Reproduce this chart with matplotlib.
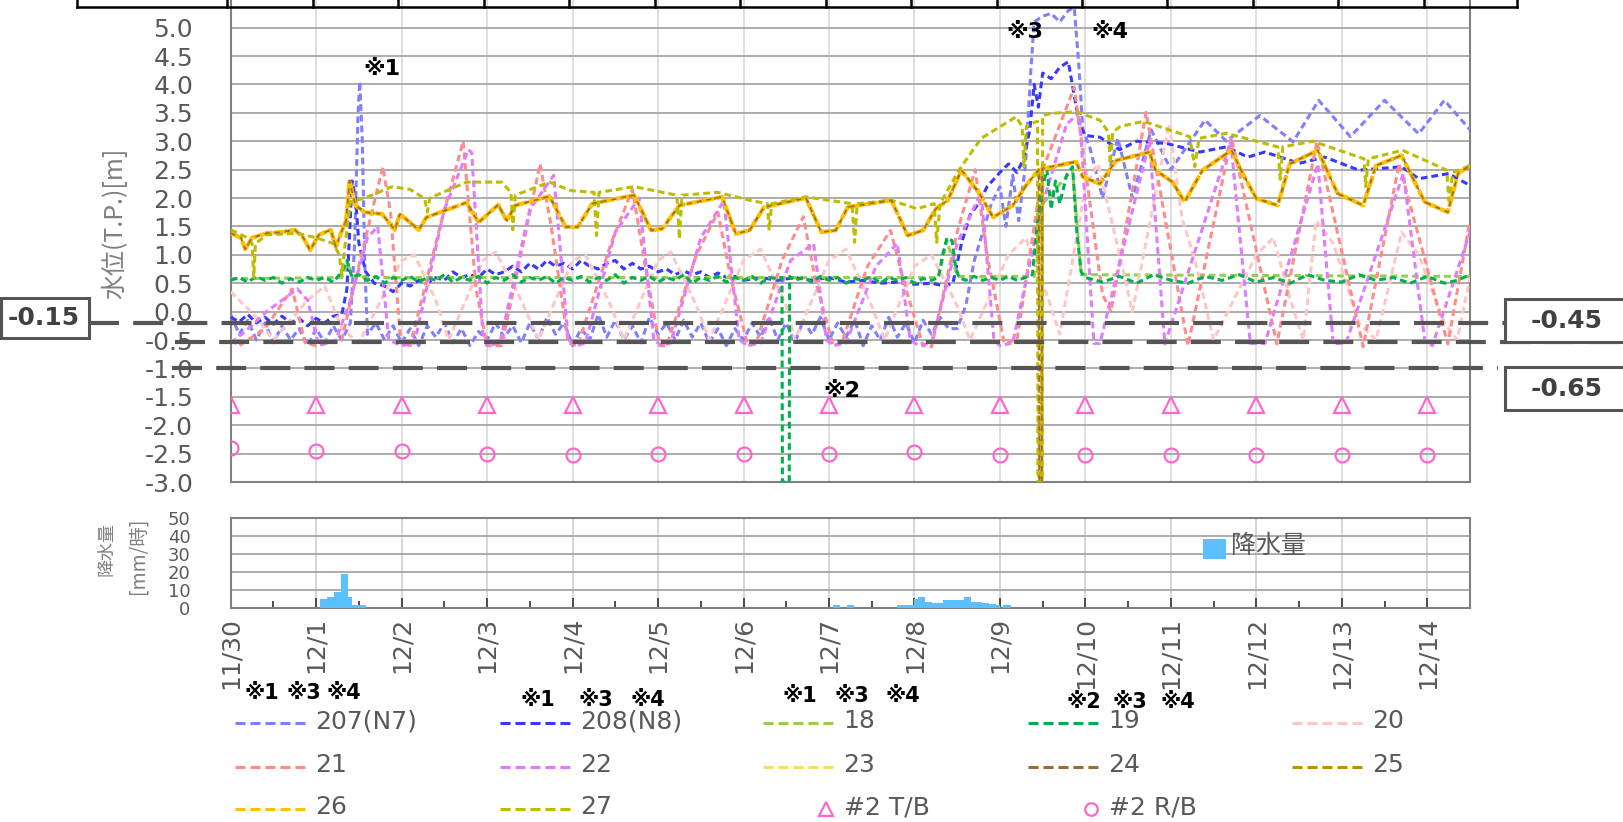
import numpy as np
import matplotlib
matplotlib.use("Agg")
import matplotlib.pyplot as plt
import matplotlib.transforms as mtransforms
from matplotlib.lines import Line2D
from matplotlib.patches import Rectangle

W, H = 1623, 822
plt.rcParams["font.family"] = ["DejaVu Sans", "Noto Sans CJK JP"]

# ---- data (x = days since 11/30 00:00) ----
DAY_LABELS = ["11/30", "12/1", "12/2", "12/3", "12/4", "12/5", "12/6", "12/7",
              "12/8", "12/9", "12/10", "12/11", "12/12", "12/13", "12/14"]

s207 = [(0.0, -0.05), (0.1, -0.4), (0.2, -0.15), (0.3, -0.5), (0.4, -0.2), (0.5, -0.55),
        (0.6, -0.25), (0.7, -0.5), (0.8, -0.3), (0.9, -0.6), (1.0, -0.3), (1.1, -0.55),
        (1.2, -0.25), (1.3, -0.5), (1.4, -0.2), (1.45, 1.2), (1.49, 3.5), (1.51, 4.05),
        (1.54, 3.0), (1.57, 0.8), (1.6, -0.4), (1.7, -0.2), (1.8, -0.5), (1.9, -0.25),
        (2.0, -0.55), (2.1, -0.3), (2.2, -0.6), (2.3, -0.25), (2.4, -0.45), (2.5, -0.2),
        (2.6, -0.55), (2.7, -0.3), (2.8, -0.6), (2.9, -0.35), (3.0, -0.5), (3.1, -0.2),
        (3.2, -0.45), (3.3, -0.25), (3.4, -0.55), (3.5, -0.2), (3.6, -0.5), (3.7, -0.1),
        (3.8, -0.4), (3.9, -0.2), (4.0, -0.6), (4.1, -0.3), (4.2, -0.5), (4.3, -0.05),
        (4.4, -0.45), (4.5, -0.15), (4.6, -0.5), (4.7, -0.25), (4.8, -0.55), (4.9, -0.1),
        (5.0, -0.4), (5.1, -0.2), (5.2, -0.5), (5.3, -0.15), (5.4, -0.45), (5.5, -0.2),
        (5.6, -0.55), (5.7, -0.3), (5.8, -0.6), (5.9, -0.3), (6.0, -0.5), (6.1, -0.2),
        (6.2, -0.45), (6.3, -0.1), (6.4, -0.5), (6.5, -0.2), (6.6, -0.55), (6.7, -0.15),
        (6.8, -0.4), (6.9, -0.1), (7.0, -0.5), (7.1, -0.2), (7.2, -0.45), (7.3, -0.15),
        (7.4, -0.6), (7.5, -0.25), (7.6, -0.5), (7.7, -0.1), (7.8, -0.45), (7.9, -0.2),
        (8.0, -0.55), (8.1, -0.15), (8.2, -0.4), (8.3, -0.1), (8.4, -0.3), (8.5, -0.3),
        (8.6, 0.1), (8.7, 0.9), (8.8, 1.4), (8.9, 1.9), (9.0, 2.2), (9.07, 1.5),
        (9.15, 2.4), (9.22, 1.6), (9.3, 2.6), (9.36, 4.2), (9.4, 5.1), (9.5, 5.2),
        (9.6, 5.25), (9.7, 5.1), (9.8, 5.3), (9.87, 5.35), (9.92, 4.4), (9.97, 3.2),
        (10.05, 2.9), (10.2, 2.0), (10.38, 3.05), (10.55, 2.0), (10.77, 3.2), (11.0, 2.5),
        (11.4, 3.37), (11.65, 3.0), (12.04, 3.45), (12.43, 2.99), (12.73, 3.72),
        (13.1, 3.08), (13.5, 3.72), (13.9, 3.13), (14.2, 3.72), (14.5, 3.2)]

s208 = [(0.0, -0.1), (0.1, -0.18), (0.2, -0.05), (0.3, -0.2), (0.4, -0.1), (0.5, -0.22),
        (0.6, -0.08), (0.7, -0.2), (0.8, -0.12), (0.9, -0.25), (1.0, -0.12), (1.1, -0.2),
        (1.2, -0.08), (1.3, -0.05), (1.36, 0.4), (1.42, 2.3), (1.46, 2.0), (1.5, 1.2),
        (1.58, 0.7), (1.68, 0.5), (1.8, 0.45), (1.9, 0.35), (2.0, 0.5), (2.1, 0.45),
        (2.2, 0.55), (2.3, 0.5), (2.4, 0.6), (2.5, 0.55), (2.6, 0.7), (2.7, 0.6),
        (2.8, 0.65), (2.9, 0.6), (3.0, 0.75), (3.1, 0.65), (3.2, 0.7), (3.3, 0.8),
        (3.4, 0.7), (3.5, 0.85), (3.6, 0.75), (3.7, 0.9), (3.8, 0.8), (3.9, 0.85),
        (4.0, 0.75), (4.1, 0.9), (4.2, 0.8), (4.3, 0.75), (4.4, 0.85), (4.5, 0.9),
        (4.6, 0.75), (4.7, 0.85), (4.8, 0.75), (4.9, 0.8), (5.0, 0.7), (5.1, 0.75),
        (5.2, 0.65), (5.3, 0.72), (5.4, 0.65), (5.5, 0.7), (5.6, 0.6), (5.7, 0.68),
        (5.8, 0.6), (5.9, 0.62), (6.0, 0.55), (6.2, 0.6), (6.4, 0.55), (6.6, 0.6),
        (6.8, 0.55), (7.0, 0.6), (7.2, 0.52), (7.4, 0.55), (7.6, 0.5), (7.8, 0.52),
        (8.0, 0.48), (8.2, 0.5), (8.35, 0.45), (8.45, 0.5), (8.55, 1.2), (8.65, 1.7),
        (8.75, 1.9), (8.85, 2.2), (9.0, 2.45), (9.1, 2.6), (9.2, 2.45), (9.28, 2.7),
        (9.35, 3.2), (9.4, 4.0), (9.45, 3.6), (9.5, 4.2), (9.6, 4.1), (9.7, 4.3),
        (9.8, 4.4), (9.87, 3.8), (9.93, 3.3), (10.0, 3.1), (10.17, 3.07), (10.4, 2.85),
        (10.6, 3.0), (10.95, 2.96), (11.34, 2.81), (11.65, 2.9), (11.9, 2.72),
        (12.1, 2.81), (12.5, 2.61), (12.8, 2.72), (13.2, 2.49), (13.7, 2.55),
        (13.9, 2.34), (14.25, 2.43), (14.5, 2.22)]

s18 = [(0.0, 0.58), (1.3, 0.6), (1.36, 0.85), (1.45, 0.6), (8.28, 0.6), (8.38, 1.25),
       (8.5, 0.62), (9.4, 0.62), (9.5, 1.9), (9.85, 2.5), (9.95, 0.65), (14.5, 0.62)]

s19 = [(0.0, 0.55), (0.1, 0.6), (0.2, 0.52), (0.3, 0.62), (0.4, 0.55), (0.5, 0.6),
       (0.6, 0.5), (0.7, 0.58), (0.8, 0.52), (0.9, 0.6), (1.0, 0.55), (1.1, 0.6),
       (1.2, 0.52), (1.3, 0.7), (1.36, 0.9), (1.42, 0.6), (1.5, 0.65), (1.6, 0.55),
       (1.7, 0.62), (1.8, 0.5), (1.9, 0.6), (2.0, 0.55), (2.1, 0.62), (2.2, 0.52),
       (2.3, 0.6), (2.4, 0.55), (2.5, 0.65), (2.6, 0.52), (2.7, 0.6), (2.8, 0.55),
       (2.9, 0.62), (3.0, 0.5), (3.1, 0.6), (3.2, 0.55), (3.3, 0.65), (3.4, 0.52),
       (3.5, 0.6), (3.6, 0.55), (3.7, 0.62), (3.8, 0.5), (3.9, 0.6), (4.0, 0.55),
       (4.1, 0.62), (4.2, 0.52), (4.3, 0.6), (4.4, 0.55), (4.5, 0.65), (4.6, 0.5),
       (4.7, 0.6), (4.8, 0.55), (4.9, 0.62), (5.0, 0.52), (5.1, 0.6), (5.2, 0.55),
       (5.3, 0.65), (5.4, 0.5), (5.5, 0.6), (5.6, 0.55), (5.7, 0.62), (5.8, 0.52),
       (5.9, 0.6), (6.0, 0.55), (6.1, 0.62), (6.2, 0.5), (6.3, 0.6), (6.4, 0.58),
       (6.45, 0.6), (6.455, -3.0), (6.535, -3.0), (6.54, 0.62), (6.6, 0.55), (6.7, 0.6),
       (6.8, 0.52), (6.9, 0.62), (7.0, 0.55), (7.1, 0.6), (7.2, 0.5), (7.3, 0.58),
       (7.4, 0.55), (7.5, 0.62), (7.6, 0.5), (7.7, 0.6), (7.8, 0.55), (7.9, 0.6),
       (8.0, 0.5), (8.1, 0.58), (8.2, 0.55), (8.28, 0.6), (8.33, 1.0), (8.38, 1.3),
       (8.44, 1.25), (8.48, 0.8), (8.52, 0.6), (8.6, 0.55), (8.7, 0.62), (8.8, 0.55),
       (8.9, 0.6), (9.0, 0.55), (9.1, 0.62), (9.2, 0.55), (9.3, 0.6), (9.38, 0.65),
       (9.44, 1.6), (9.5, 2.2), (9.55, 2.5), (9.6, 1.8), (9.65, 2.3), (9.7, 1.9),
       (9.78, 2.4), (9.85, 2.55), (9.9, 1.4), (9.95, 0.7), (10.0, 0.6), (10.2, 0.52),
       (10.4, 0.62), (10.6, 0.5), (10.8, 0.65), (11.0, 0.55), (11.2, 0.5), (11.4, 0.62),
       (11.6, 0.55), (11.8, 0.65), (12.0, 0.52), (12.2, 0.6), (12.4, 0.5), (12.6, 0.65),
       (12.8, 0.55), (13.0, 0.52), (13.2, 0.65), (13.4, 0.55), (13.6, 0.6), (13.8, 0.5),
       (14.0, 0.62), (14.2, 0.5), (14.35, 0.55), (14.5, 0.65)]

s20 = [(0.0, 0.35), (0.3, -0.1), (0.5, -0.5), (0.9, 0.2), (1.1, 0.45), (1.3, -0.3),
       (1.5, -0.55), (2.0, 0.9), (2.15, 1.0), (2.4, 0.2), (2.55, -0.5), (2.95, 0.9),
       (3.1, 1.05), (3.4, 0.2), (3.6, -0.5), (4.0, 0.9), (4.15, 1.0), (4.45, 0.1),
       (4.6, -0.5), (5.0, 0.9), (5.15, 1.05), (5.45, 0.1), (5.6, -0.5), (6.0, 0.9),
       (6.2, 1.1), (6.5, 0.1), (6.6, -0.5), (7.0, 0.9), (7.2, 1.1), (7.5, 0.1),
       (7.65, -0.5), (8.0, 0.8), (8.2, 1.0), (8.5, 0.1), (8.65, -0.5), (9.1, 1.0),
       (9.3, 1.3), (9.55, 0.3), (9.7, -0.4), (10.0, 2.2), (10.15, 2.6), (10.4, 1.0),
       (10.55, 0.0), (10.98, 3.3), (11.13, 1.65), (11.3, 0.8), (11.5, -0.5), (12.0, 1.0),
       (12.2, 1.3), (12.4, 0.2), (12.55, -0.5), (12.7, 1.6), (12.9, 1.2), (13.2, -0.2),
       (13.4, -0.5), (13.7, 1.4), (13.9, 1.0), (14.2, -0.2), (14.35, -0.5), (14.5, 0.6)]

s21 = [(0.0, -0.5), (0.1, -0.6), (0.4, -0.3), (0.72, 0.4), (0.87, -0.55), (1.0, -0.6),
       (1.3, -0.5), (1.45, 0.5), (1.78, 2.55), (1.87, 1.75), (1.99, -0.55), (2.1, -0.6),
       (2.45, 1.5), (2.72, 3.0), (2.87, 0.4), (3.0, -0.6), (3.17, -0.6), (3.62, 2.6),
       (3.75, 1.5), (3.95, -0.55), (4.06, -0.6), (4.45, 1.2), (4.7, 2.15), (4.85, 0.8),
       (5.02, -0.6), (5.1, -0.6), (5.45, 1.0), (5.7, 1.75), (5.85, 0.6), (6.05, -0.6),
       (6.15, -0.55), (6.45, 0.9), (6.7, 1.67), (6.85, 0.5), (7.05, -0.6), (7.15, -0.55),
       (7.45, 0.8), (7.72, 1.43), (7.9, 0.4), (8.1, -0.6), (8.2, -0.62), (8.5, 1.4),
       (8.71, 2.5), (8.85, 1.0), (9.05, -0.55), (9.2, -0.5), (9.5, 2.5), (9.87, 3.95),
       (10.0, 2.5), (10.2, 0.3), (10.3, 0.0), (10.71, 3.51), (11.2, -0.6), (11.71, 3.07),
       (12.24, -0.57), (12.71, 3.0), (13.25, -0.62), (13.67, 2.6), (14.24, -0.57),
       (14.5, 1.6)]

s22 = [(0.0, -0.55), (0.17, -0.35), (0.42, 0.0), (0.78, 0.4), (0.9, 0.2), (1.03, -0.6),
       (1.23, -0.5), (1.4, 0.2), (1.6, 1.3), (1.72, 1.5), (1.85, -0.5), (2.0, -0.6),
       (2.15, -0.55), (2.5, 1.8), (2.78, 2.85), (2.82, 2.8), (2.95, -0.4), (3.0, -0.6),
       (3.15, -0.55), (3.5, 1.8), (3.78, 2.4), (3.95, -0.5), (4.05, -0.6), (4.15, -0.55),
       (4.5, 1.4), (4.78, 2.0), (4.95, -0.5), (5.05, -0.6), (5.15, -0.55), (5.5, 1.3),
       (5.77, 1.95), (5.95, -0.5), (6.05, -0.6), (6.2, -0.55), (6.55, 0.9), (6.82, 1.2),
       (6.97, -0.5), (7.05, -0.6), (7.2, -0.55), (7.55, 0.8), (7.8, 1.2), (7.95, -0.5),
       (8.05, -0.6), (8.2, -0.55), (8.5, 1.2), (8.78, 2.1), (8.93, -0.5), (9.0, -0.6),
       (9.15, -0.55), (9.5, 1.9), (9.78, 3.3), (9.93, 3.5), (10.1, -0.56), (10.17, -0.56),
       (10.75, 3.0), (10.93, -0.57), (11.7, 3.0), (11.93, -0.56), (12.1, -0.56),
       (12.72, 2.6), (12.9, -0.57), (13.05, -0.55), (13.72, 2.43), (13.97, -0.5),
       (14.06, -0.6), (14.5, 1.4)]

# 23 / 24 / 25 / 26 lie on the same trace
s26 = [(0.0, 1.38), (0.12, 1.3), (0.17, 1.1), (0.25, 1.3), (0.42, 1.38), (0.6, 1.4),
       (0.75, 1.44), (0.85, 1.3), (0.93, 1.08), (1.03, 1.35), (1.17, 1.44), (1.23, 1.14),
       (1.29, 1.38), (1.35, 1.6), (1.39, 2.3), (1.46, 1.87), (1.57, 1.75), (1.77, 1.72),
       (1.92, 1.44), (1.98, 1.72), (2.2, 1.44), (2.29, 1.66), (2.76, 1.92), (2.9, 1.57),
       (3.13, 1.88), (3.23, 1.6), (3.33, 1.87), (3.73, 2.03), (3.92, 1.49), (4.06, 1.49),
       (4.23, 1.9), (4.72, 2.05), (4.92, 1.43), (5.05, 1.46), (5.25, 1.87), (5.75, 2.02),
       (5.91, 1.37), (6.07, 1.43), (6.24, 1.84), (6.73, 2.0), (6.91, 1.40), (7.08, 1.43),
       (7.22, 1.84), (7.73, 1.96), (7.92, 1.34), (8.1, 1.43), (8.25, 1.81), (8.39, 1.96),
       (8.55, 2.49), (8.76, 2.08), (8.92, 1.66), (9.15, 1.87), (9.31, 2.23), (9.45, 2.49),
       (9.89, 2.64), (9.97, 2.37), (10.17, 2.25), (10.36, 2.66), (10.75, 2.81),
       (10.82, 2.49), (11.02, 2.28), (11.16, 1.93), (11.37, 2.49), (11.71, 2.84),
       (11.84, 2.43), (12.0, 1.99), (12.25, 1.87), (12.39, 2.6), (12.72, 2.84),
       (12.95, 2.08), (13.25, 1.87), (13.4, 2.57), (13.7, 2.75), (13.97, 1.93),
       (14.24, 1.75), (14.36, 2.43), (14.5, 2.57)]
gap_2425 = [(9.455, 2.5), (9.46, -3.0), (9.49, -3.0), (9.495, 2.52)]

s27 = [(0.0, 1.44), (0.17, 1.32), (0.25, 1.2), (0.27, 0.6), (0.29, 1.2), (0.42, 1.35),
       (0.78, 1.38), (1.0, 1.3), (1.2, 1.2), (1.27, 1.0), (1.3, 0.65), (1.34, 1.2),
       (1.4, 1.93), (1.57, 2.0), (1.89, 2.2), (2.1, 2.15), (2.27, 1.99), (2.3, 1.75),
       (2.33, 2.0), (2.76, 2.28), (3.17, 2.28), (3.28, 2.1), (3.3, 1.44), (3.33, 2.05),
       (3.73, 2.28), (3.98, 2.13), (4.25, 2.1), (4.28, 1.34), (4.31, 2.1), (4.72, 2.2),
       (5.22, 2.05), (5.25, 1.28), (5.28, 2.05), (5.7, 2.1), (6.07, 1.96), (6.28, 1.9),
       (6.3, 1.43), (6.33, 1.9), (6.73, 2.02), (7.0, 1.96), (7.27, 1.9), (7.3, 1.22),
       (7.33, 1.9), (7.73, 1.96), (8.03, 1.81), (8.23, 1.9), (8.26, 1.22), (8.3, 1.9),
       (8.52, 2.49), (8.78, 3.05), (9.19, 3.43), (9.26, 3.26), (9.28, 2.55), (9.31, 3.26),
       (9.38, 3.32), (9.44, 3.35), (9.445, -3.0), (9.495, -3.0), (9.5, 3.45), (9.6, 3.49),
       (9.89, 3.52), (10.17, 3.37), (10.27, 3.16), (10.29, 2.6), (10.32, 3.16),
       (10.41, 3.26), (10.68, 3.35), (11.22, 3.08), (11.28, 2.55), (11.33, 3.05),
       (11.65, 3.14), (12.25, 2.9), (12.28, 2.33), (12.31, 2.9), (12.66, 3.0),
       (13.26, 2.69), (13.28, 2.2), (13.31, 2.69), (13.71, 2.84), (14.23, 2.49),
       (14.25, 1.96), (14.3, 2.45), (14.5, 2.57)]

tb_days = list(range(15))
tb_vals = [-1.65] * 15
rb_vals = [-2.41, -2.46, -2.46, -2.50, -2.53, -2.51, -2.51, -2.51, -2.48, -2.52,
           -2.52, -2.52, -2.52, -2.52, -2.52]

threshold_levels = [-0.2, -0.53, -1.0]
threshold_labels = ["-0.15", "-0.45", "-0.65"]

# hourly rainfall, hours since 11/30 00:00
rain_hours = [25, 26, 27, 28, 29, 30, 31, 32, 33, 34, 35, 36, 37,
              169, 170, 173, 174, 187, 188, 189, 190, 191,
              192, 193, 194, 195, 196, 197, 198, 199, 200, 201, 202, 203, 204, 205,
              206, 207, 208, 209, 210, 211, 212, 213, 214, 215, 217, 218]
rain_mm = [5.2, 5.2, 6.3, 6.3, 9.3, 9.3, 19.1, 19.1, 6.3, 1.9, 1.9, 1.9, 1.9,
           1.9, 1.9, 1.9, 1.9, 1.9, 1.9, 1.9, 1.9, 1.9,
           5.0, 6.5, 6.5, 3.7, 3.7, 3.1, 3.1, 3.1, 4.6, 4.6, 4.6, 4.6, 4.6, 4.6,
           6.5, 6.5, 3.3, 3.3, 3.3, 2.8, 2.8, 2.2, 2.2, 1.9, 1.9, 1.9]

series = [
    ("207(N7)", "#8080FF", s207),
    ("208(N8)", "#3838FF", s208),
    ("18", "#92D050", s18),
    ("19", "#00B050", s19),
    ("20", "#FFC6C6", s20),
    ("21", "#FF8C8C", s21),
    ("22", "#E07CFF", s22),
    ("23", "#FFD966", s26),
    ("24", "#9C6B30", sorted(s26 + gap_2425)),
    ("25", "#BF9000", sorted(s26 + gap_2425)),
    ("26", "#FFC000", s26),
    ("27", "#BDBD00", s27),
]
MARK = "#FF66CC"
GREY_TXT = "#595959"
NOTE_FONT = ["DejaVu Sans", "Noto Sans CJK JP"]


def fx(x):
    return x / W


def fy(y):
    return 1 - y / H


fig = plt.figure(figsize=(W / 100, H / 100), dpi=100)
ax = fig.add_axes([fx(230.7), fy(482), fx(1470) - fx(230.7), 482 / H])
axr = fig.add_axes([fx(230.7), fy(608.3), fx(1470) - fx(230.7), 90 / H])

# ---- main water-level panel ----
dash = (0, (2.2, 1.3))
for name, color, pts in series:
    a = np.array(pts, dtype=float)
    lw, ls, z = 2.2, dash, 3
    if name == "26":
        lw, ls, z = 3.0, (0, (3.0, 0.6)), 4
    elif name == "24":
        lw, ls, z = 1.2, (0, (3.0, 3.0)), 5
    elif name == "25":
        ls = (1.7, (2.2, 1.3))
    elif name == "27":
        z = 4.5
    elif name == "19":
        z = 3.5
    ax.plot(a[:, 0], a[:, 1], color=color, lw=lw, ls=ls, zorder=z)

ax.plot(tb_days, tb_vals, ls="none", marker="^", ms=11, mfc="none", mec=MARK, mew=1.6, zorder=6)
ax.plot(tb_days, rb_vals, ls="none", marker="o", ms=10, mfc="none", mec=MARK, mew=1.6, zorder=6)

ax.set_xlim(0, 14.5)
ax.set_ylim(-3.0, 5.486)
ax.set_yticks(np.arange(-3.0, 5.01, 0.5))
ax.set_yticklabels([f"{v:.1f}" for v in np.arange(-3.0, 5.01, 0.5)])
ax.set_xticks(tb_days)
ax.tick_params(axis="y", length=0, pad=27, labelsize=18, labelcolor=GREY_TXT)
ax.tick_params(axis="x", length=0, labelbottom=False)
ax.grid(axis="y", color="#A6A6A6", lw=1.3, zorder=1)
ax.grid(axis="x", color="#D9D9D9", lw=1.2, zorder=1)
for side in ["left", "right", "bottom"]:
    ax.spines[side].set_color("#808080")
    ax.spines[side].set_linewidth(1.5)
ax.spines["top"].set_visible(False)

fig.text(fx(115), fy(223), "水位(T.P.)[m]", rotation=90, ha="center", va="center",
         fontsize=18, color="#808080", family=["Noto Sans CJK JP"])

for d, v, t in [(1.55, 4.27, "※1"), (9.07, 4.93, "※3"), (10.07, 4.93, "※4"), (6.93, -1.40, "※2")]:
    ax.text(d, v, t, fontsize=16, weight="bold", va="center", family=NOTE_FONT, zorder=8)

# threshold lines and boxes
trans = mtransforms.blended_transform_factory(fig.transFigure, ax.transData)
spans = [(89, 1505), (175, 1623), (172, 1498)]
for lvl, (x0, x1) in zip(threshold_levels, spans):
    fig.add_artist(Line2D([fx(x0), fx(x1)], [lvl, lvl], transform=trans, color="#555555",
                          lw=3.0, ls=(0, (7.2, 3.4)), zorder=9))
boxes = [(1, 89, 298, 338, 44), (1505, 1640, 299, 342, 1567), (1505, 1640, 367, 410, 1567)]
for (x0, x1, y0, y1, tx), lab in zip(boxes, threshold_labels):
    fig.add_artist(Rectangle((fx(x0), fy(y1)), fx(x1) - fx(x0), (y1 - y0) / H,
                             transform=fig.transFigure, fc="white", ec="#555555", lw=2.2, zorder=10))
    fig.text(fx(tx), fy((y0 + y1) / 2), lab, ha="center", va="center", fontsize=18,
             weight="bold", color="#404040", zorder=11)

# header frame at the very top
fig.add_artist(Line2D([fx(77), fx(1517)], [fy(7), fy(7)], color="black", lw=1.8))
for xp in [77, 1517]:
    fig.add_artist(Line2D([fx(xp), fx(xp)], [fy(7), 1.0], color="black", lw=1.8))
tr_top = mtransforms.blended_transform_factory(ax.transData, fig.transFigure)
for d in tb_days:
    fig.add_artist(Line2D([d - 0.04, d - 0.04], [fy(7), 1.0], transform=tr_top, color="black", lw=1.8))

# ---- rainfall panel ----
axr.bar(np.array(rain_hours) / 24.0, rain_mm, width=1 / 24.0, align="edge",
        color="#5BC0FF", zorder=3)
axr.set_xlim(0, 14.5)
axr.set_ylim(0, 50)
axr.set_yticks([0, 10, 20, 30, 40, 50])
axr.set_xticks(tb_days)
axr.set_xticklabels(DAY_LABELS, rotation=90)
axr.set_xticks([d + 0.5 for d in tb_days[:-1]] + [14.5], minor=True)
axr.tick_params(axis="y", length=0, pad=29, labelsize=13, labelcolor=GREY_TXT)
axr.tick_params(axis="x", which="major", direction="in", length=7, width=1.3, color="#404040",
                pad=6, labelsize=18, labelcolor=GREY_TXT)
axr.tick_params(axis="x", which="minor", direction="in", length=5, width=1.3, color="#404040")
axr.grid(axis="y", color="#A6A6A6", lw=1.3, zorder=1)
axr.grid(axis="x", which="major", color="#D0D0D0", lw=1.2, zorder=1)
for side in axr.spines.values():
    side.set_color("#808080")
    side.set_linewidth(1.5)

fig.text(fx(106), fy(549), "降水量", rotation=90, ha="center", va="center", fontsize=13,
         color="#808080", family=["Noto Sans CJK JP"])
fig.text(fx(138), fy(556), "[mm/時]", rotation=90, ha="center", va="center", fontsize=14,
         color="#808080", family=["Noto Sans CJK JP"])
fig.add_artist(Rectangle((fx(1203), fy(559)), fx(1226) - fx(1203), 20 / H,
                         transform=fig.transFigure, fc="#5BC0FF", ec="none"))
fig.text(fx(1231), fy(546), "降水量", ha="left", va="center", fontsize=18, color=GREY_TXT,
         family=["Noto Sans CJK JP"])

# ---- legend (row-major, 5 columns) ----
col_x = [235, 500, 763, 1028, 1292]
row_y = [723, 767, 809]
entries = [(name, color) for name, color, _ in series] + [("#2 T/B", "^"), ("#2 R/B", "o")]
for i, (name, style) in enumerate(entries):
    r, c = divmod(i, 5)
    x0, y0 = col_x[c], row_y[r]
    if style in ("^", "o"):
        fig.add_artist(Line2D([fx(x0 + 63)], [fy(y0)], ls="none", marker=style,
                              ms=10 if style == "^" else 9, mfc="none", mec=MARK, mew=1.6))
        fig.text(fx(x0 + 81), fy(y0 - 2), name, ha="left", va="center", fontsize=18, color=GREY_TXT)
    else:
        fig.add_artist(Line2D([fx(x0), fx(x0 + 72)], [fy(y0), fy(y0)], color=style, lw=2.2,
                              ls=(0, (3.3, 1.6))))
        fig.text(fx(x0 + 80), fy(y0 - 2), name, ha="left", va="center", fontsize=18, color=GREY_TXT)

notes = [(245, 693, "※1"), (287, 693, "※3"), (327, 693, "※4"),
         (521, 700, "※1"), (578, 700, "※3"), (631, 700, "※4"),
         (783, 696, "※1"), (835, 696, "※3"), (886, 696, "※4"),
         (1066, 702, "※2"), (1112, 702, "※3"), (1161, 702, "※4")]
for x, y, t in notes:
    fig.text(fx(x), fy(y), t, ha="left", va="center", fontsize=15, weight="bold", family=NOTE_FONT)

fig.savefig("out.png", dpi=100)
